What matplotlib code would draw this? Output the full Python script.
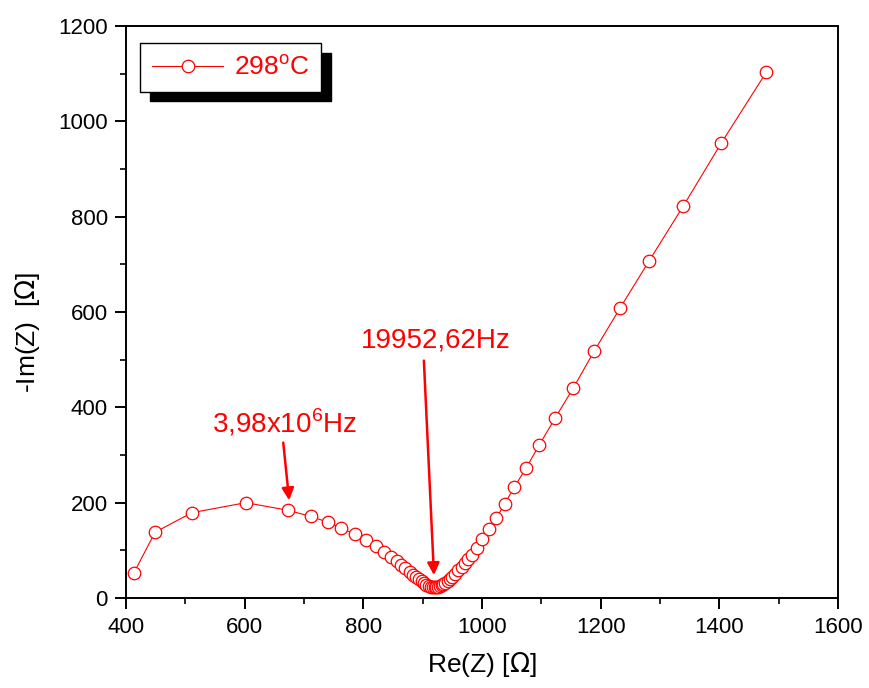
import matplotlib.pyplot as plt
from matplotlib.ticker import MultipleLocator

plt.rcParams['font.family'] = ['Liberation Sans', 'DejaVu Sans']

# impedance data (Re(Z), -Im(Z)) in ohm
re_z = [413, 449, 511, 602, 673, 712, 740, 763, 786, 805, 821, 834, 846,
        856, 864, 871, 878, 884, 889, 894, 898, 902, 906, 910, 914, 917,
        920, 923, 926, 929, 932, 935, 938, 942, 946, 950, 955, 960, 966,
        971, 977, 983, 991, 1000, 1011, 1024, 1038, 1054, 1074, 1096,
        1123, 1154, 1189, 1233, 1281, 1339, 1403, 1479]
im_z = [52, 138, 179, 200, 184, 171, 159, 146, 134, 122, 110, 97, 87,
        78, 69, 62, 55, 49, 44, 39, 35, 31, 28, 26, 24, 23,
        23, 23, 24, 25, 27, 29, 32, 35, 39, 45, 51, 58, 65,
        73, 81, 91, 104, 123, 144, 168, 197, 232, 272, 320,
        377, 441, 518, 609, 706, 822, 954, 1103]

label = '298$^{\\mathregular{o}}$C'
red = '#ff0000'

fig = plt.figure(figsize=(8.69, 6.88), dpi=100)
ax = fig.add_axes([0.145, 0.1308, 0.8194, 0.8314])

ax.plot(re_z, im_z, '-', color=red, lw=0.8, marker='o', ms=9,
        mfc='white', mec=red, mew=0.9, label=label)

ax.set_xlim(400, 1600)
ax.set_ylim(0, 1200)
ax.xaxis.set_major_locator(MultipleLocator(200))
ax.xaxis.set_minor_locator(MultipleLocator(100))
ax.yaxis.set_major_locator(MultipleLocator(200))
ax.yaxis.set_minor_locator(MultipleLocator(100))
ax.tick_params(which='major', direction='out', length=8, width=1.4,
               labelsize=16, pad=5, top=False, right=False)
ax.tick_params(which='minor', direction='out', length=4, width=1.2,
               top=False, right=False)
ax.tick_params(axis='x', which='major', pad=6)
for s in ax.spines.values():
    s.set_linewidth(1.4)

ax.set_xlabel('Re(Z) [$\\Omega$]', fontsize=19, labelpad=8)
ax.set_ylabel('-Im(Z)  [$\\Omega$]', fontsize=19)
ax.yaxis.set_label_coords(-0.118, 0.465)

# frequency annotations: text and arrows drawn separately
ax.text(668, 367, '3,98x10$^{\\mathregular{6}}$Hz', color=red, fontsize=20,
        ha='center', va='center')
ax.annotate('', xy=(675, 205), xytext=(665, 326),
            arrowprops=dict(arrowstyle='-|>', color=red, lw=1.8,
                            mutation_scale=18, shrinkA=0, shrinkB=0))
ax.text(922, 541, '19952,62Hz', color=red, fontsize=20,
        ha='center', va='center')
ax.annotate('', xy=(919, 48), xytext=(902, 498),
            arrowprops=dict(arrowstyle='-|>', color=red, lw=1.8,
                            mutation_scale=18, shrinkA=0, shrinkB=0))

leg = ax.legend(loc='upper left', bbox_to_anchor=(0.0197, 0.970),
                borderaxespad=0, fancybox=False, edgecolor='black',
                framealpha=1, fontsize=19, handlelength=2.7,
                handletextpad=0.4, borderpad=0.45,
                shadow={'color': 'black', 'alpha': 1, 'ox': 7, 'oy': -7})
leg.get_frame().set_linewidth(1.0)
for t in leg.get_texts():
    t.set_color(red)

fig.savefig('out.png', dpi=100)
